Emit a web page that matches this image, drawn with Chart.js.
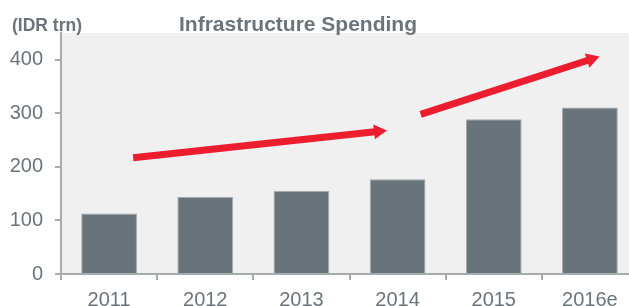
<!DOCTYPE html>
<html>
<head>
<meta charset="utf-8">
<script src="https://cdn.jsdelivr.net/npm/chart.js@4.4.1/dist/chart.umd.min.js"></script>
<style>
  html, body { margin: 0; padding: 0; background: #fff; overflow: hidden; }
  #wrap { position: relative; width: 640px; height: 306px; }
</style>
</head>
<body>
<div id="wrap"><canvas id="spending-chart"></canvas></div>
<script>
// 年ごとのインフラ支出 (IDR trn)
const years = ['2011', '2012', '2013', '2014', '2015', '2016e'];
const spending = [113, 144, 155, 177, 289, 311];
const yTicks = [0, 100, 200, 300, 400];

// 赤い矢印 (カテゴリ位置, 値) で指定
const arrowStarts = [[0.25, 217], [3.24, 298]];
const arrowEnds = [[2.89, 268], [5.10, 406]];

const textGray = '#6b747b';
const axisGray = '#a6abae';

// プロット背景・タイトル・矢印を描くプラグイン
const decorPlugin = {
  id: 'decor',
  beforeDraw(chart) {
    const { ctx, chartArea: a } = chart;
    ctx.save();
    ctx.fillStyle = '#f0f0f0';
    ctx.fillRect(a.left, a.top, a.right - a.left, a.bottom - a.top);
    ctx.restore();
  },
  afterDatasetsDraw(chart) {
    const { ctx, scales } = chart;
    const x = scales.x, y = scales.y;
    ctx.save();
    ctx.strokeStyle = '#ed1c2e';
    ctx.fillStyle = '#ed1c2e';
    ctx.lineWidth = 7;
    arrowStarts.forEach((s, i) => {
      const e = arrowEnds[i];
      const x1 = x.getPixelForValue(s[0]), y1 = y.getPixelForValue(s[1]);
      const x2 = x.getPixelForValue(e[0]), y2 = y.getPixelForValue(e[1]);
      const ang = Math.atan2(y2 - y1, x2 - x1);
      const head = 13;
      const bx = x2 - head * Math.cos(ang), by = y2 - head * Math.sin(ang);
      ctx.beginPath();
      ctx.moveTo(x1, y1);
      ctx.lineTo(bx + 1 * Math.cos(ang), by + 1 * Math.sin(ang));
      ctx.stroke();
      ctx.beginPath();
      ctx.moveTo(x2, y2);
      ctx.lineTo(bx + 7.5 * Math.sin(ang), by - 7.5 * Math.cos(ang));
      ctx.lineTo(bx - 7.5 * Math.sin(ang), by + 7.5 * Math.cos(ang));
      ctx.closePath();
      ctx.fill();
    });
    ctx.restore();
  },
  afterDraw(chart) {
    const { ctx } = chart;
    ctx.save();
    ctx.fillStyle = textGray;
    ctx.textBaseline = 'alphabetic';
    ctx.font = 'bold 17.5px "Liberation Sans", Arial, sans-serif';
    ctx.textAlign = 'left';
    ctx.fillText('(IDR trn)', 12, 30.5);
    ctx.font = 'bold 21px "Liberation Sans", Arial, sans-serif';
    ctx.textAlign = 'center';
    ctx.fillText('Infrastructure Spending', 298, 31);
    ctx.restore();
  }
};

function renderChart() {
  const ctx = document.getElementById('spending-chart').getContext('2d');
  new Chart(ctx, {
    type: 'bar',
    data: {
      labels: years,
      datasets: [{
        data: spending,
        backgroundColor: '#69737a',
        borderColor: '#a3a9ad',
        borderWidth: 1,
        borderSkipped: 'bottom',
        barPercentage: 0.58,
        categoryPercentage: 1.0
      }]
    },
    options: {
      responsive: true,
      maintainAspectRatio: false,
      animation: false,
      layout: { padding: { top: 33, right: 2, left: 0, bottom: 0 } },
      plugins: { legend: { display: false }, tooltip: { enabled: false } },
      scales: {
        x: {
          offset: true,
          grid: { display: true, drawOnChartArea: false, offset: true, tickLength: 6, color: axisGray, lineWidth: 2 },
          border: { display: true, color: axisGray, width: 2 },
          ticks: {
            color: textGray, padding: 8, maxRotation: 0,
            font: { family: '"Liberation Sans", Arial, sans-serif', size: 20 }
          },
          afterFit(scale) { scale.height = 32; }
        },
        y: {
          min: 0,
          max: 450,
          grid: { display: true, drawOnChartArea: false, tickLength: 6, color: axisGray, lineWidth: 2 },
          border: { display: true, color: axisGray, width: 2 },
          ticks: {
            stepSize: 100, color: textGray, padding: 12,
            font: { family: '"Liberation Sans", Arial, sans-serif', size: 20 }
          },
          afterBuildTicks(scale) {
            scale.ticks = yTicks.map(v => ({ value: v }));
          },
          afterFit(scale) { scale.width = 61; }
        }
      }
    },
    plugins: [decorPlugin]
  });
}

if (document.readyState === 'loading') {
  document.addEventListener('DOMContentLoaded', renderChart);
} else {
  renderChart();
}
</script>
</body>
</html>
